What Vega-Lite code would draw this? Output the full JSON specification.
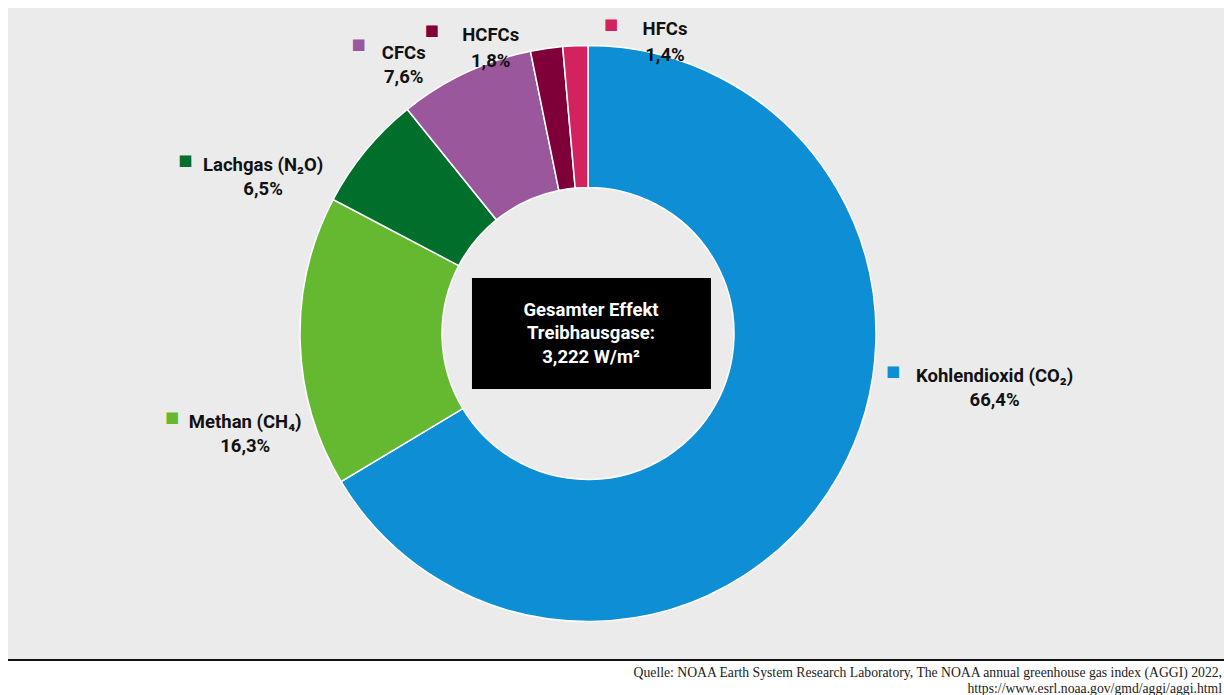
{
  "$schema": "https://vega.github.io/schema/vega-lite/v6.json",
  "padding": {"left": 8, "top": 8, "right": 0, "bottom": 0},
  "background": "white",
  "config": {"view": {"stroke": null}},
  "spacing": 0,
  "datasets": {
    "gases": [
      {"key": "CO2", "gas": "Kohlendioxid (CO₂)", "pct": "66,4%", "share": 66.4},
      {"key": "CH4", "gas": "Methan (CH₄)", "pct": "16,3%", "share": 16.3},
      {"key": "N2O", "gas": "Lachgas (N₂O)", "pct": "6,5%", "share": 6.5},
      {"key": "CFCs", "gas": "CFCs", "pct": "7,6%", "share": 7.6},
      {"key": "HCFCs", "gas": "HCFCs", "pct": "1,8%", "share": 1.8},
      {"key": "HFCs", "gas": "HFCs", "pct": "1,4%", "share": 1.4}
    ],
    "total": [{"label": "Gesamter Effekt|Treibhausgase:|3,222 W/m²"}]
  },
  "vconcat": [
    {
      "spacing": 0,
      "hconcat": [
        {
          "width": 1160,
          "height": 651,
          "view": {"fill": "#ebebeb", "stroke": null},
          "resolve": {"scale": {"theta": "independent"}},
          "layer": [
            {
              "data": {"name": "gases"},
              "transform": [
                {"stack": "share", "groupby": [], "as": ["s0", "s1"]}
              ],
              "mark": {"type": "arc", "outerRadius": 288, "innerRadius": 146, "stroke": "white", "strokeWidth": 1.5},
              "encoding": {
                "theta": {"field": "s0", "type": "quantitative", "scale": {"domain": [0, 100]}},
                "theta2": {"field": "s1"},
                "color": {"field": "gas", "type": "nominal", "sort": null, "legend": null,
                  "scale": {"domain": ["Kohlendioxid (CO₂)", "Methan (CH₄)", "Lachgas (N₂O)", "CFCs", "HCFCs", "HFCs"],
                            "range": ["#0e8ed4", "#65b931", "#006f2c", "#9b579c", "#7f0038", "#d3235e"]}}
              }
            },
            {
              "data": {"name": "total"},
              "mark": {"type": "point", "shape": "M-0.971,-0.465L1.029,-0.465L1.029,0.464L-0.971,0.464Z", "size": 57121, "filled": true, "color": "black", "opacity": 1, "strokeWidth": 0},
              "encoding": {}
            },
            {
              "data": {"name": "total"},
              "mark": {"type": "text", "font": "Roboto", "fontSize": 18.5, "fontWeight": "bold", "color": "white", "align": "center", "baseline": "top", "lineHeight": 23.5, "lineBreak": "|", "dx": 3, "dy": -33},
              "encoding": {"text": {"field": "label"}}
            },
            {
              "data": {"name": "gases"},
              "transform": [
                {"stack": "share", "groupby": [], "as": ["s0", "s1"]},
                {"calculate": "(datum.s0 + datum.s1) / 2", "as": "mid"},
                {"calculate": "[datum.gas, datum.pct]", "as": "label"},
                {"filter": "datum.key == 'CO2'"}
              ],
              "mark": {"type": "text", "font": "Roboto", "fontSize": 18.5, "fontWeight": "bold", "color": "#111111", "align": "center", "baseline": "top", "lineHeight": 23.5},
              "encoding": {
                "theta": {"field": "mid", "type": "quantitative", "stack": false, "scale": {"domain": [0, 100], "range": [-0.4318, 5.8514]}},
                "radius": {"value": 408},
                "text": {"field": "label"}
              }
            },
            {
              "data": {"name": "gases"},
              "transform": [
                {"stack": "share", "groupby": [], "as": ["s0", "s1"]},
                {"calculate": "(datum.s0 + datum.s1) / 2", "as": "mid"},
                {"filter": "datum.key == 'CO2'"}
              ],
              "mark": {"type": "text", "text": "■", "font": "DejaVu Sans", "fontSize": 15, "align": "center", "baseline": "middle", "dx": {"expr": "-length(datum.gas)*4.75-16"}, "dy": 3.5},
              "encoding": {
                "theta": {"field": "mid", "type": "quantitative", "stack": false, "scale": {"domain": [0, 100], "range": [-0.4318, 5.8514]}},
                "radius": {"value": 408},
                "color": {"field": "gas", "type": "nominal", "sort": null, "legend": null}
              }
            },
            {
              "data": {"name": "gases"},
              "transform": [
                {"stack": "share", "groupby": [], "as": ["s0", "s1"]},
                {"calculate": "(datum.s0 + datum.s1) / 2", "as": "mid"},
                {"calculate": "[datum.gas, datum.pct]", "as": "label"},
                {"filter": "datum.key == 'CH4'"}
              ],
              "mark": {"type": "text", "font": "Roboto", "fontSize": 18.5, "fontWeight": "bold", "color": "#111111", "align": "center", "baseline": "top", "lineHeight": 23.5},
              "encoding": {
                "theta": {"field": "mid", "type": "quantitative", "stack": false, "scale": {"domain": [0, 100], "range": [-0.2009, 6.0823]}},
                "radius": {"value": 352},
                "text": {"field": "label"}
              }
            },
            {
              "data": {"name": "gases"},
              "transform": [
                {"stack": "share", "groupby": [], "as": ["s0", "s1"]},
                {"calculate": "(datum.s0 + datum.s1) / 2", "as": "mid"},
                {"filter": "datum.key == 'CH4'"}
              ],
              "mark": {"type": "text", "text": "■", "font": "DejaVu Sans", "fontSize": 15, "align": "center", "baseline": "middle", "dx": {"expr": "-length(datum.gas)*4.75-16"}, "dy": 3.5},
              "encoding": {
                "theta": {"field": "mid", "type": "quantitative", "stack": false, "scale": {"domain": [0, 100], "range": [-0.2009, 6.0823]}},
                "radius": {"value": 352},
                "color": {"field": "gas", "type": "nominal", "sort": null, "legend": null}
              }
            },
            {
              "data": {"name": "gases"},
              "transform": [
                {"stack": "share", "groupby": [], "as": ["s0", "s1"]},
                {"calculate": "(datum.s0 + datum.s1) / 2", "as": "mid"},
                {"calculate": "[datum.gas, datum.pct]", "as": "label"},
                {"filter": "datum.key == 'N2O'"}
              ],
              "mark": {"type": "text", "font": "Roboto", "fontSize": 18.5, "fontWeight": "bold", "color": "#111111", "align": "center", "baseline": "top", "lineHeight": 23.5},
              "encoding": {
                "theta": {"field": "mid", "type": "quantitative", "stack": false, "scale": {"domain": [0, 100], "range": [-0.1892, 6.094]}},
                "radius": {"value": 370},
                "text": {"field": "label"}
              }
            },
            {
              "data": {"name": "gases"},
              "transform": [
                {"stack": "share", "groupby": [], "as": ["s0", "s1"]},
                {"calculate": "(datum.s0 + datum.s1) / 2", "as": "mid"},
                {"filter": "datum.key == 'N2O'"}
              ],
              "mark": {"type": "text", "text": "■", "font": "DejaVu Sans", "fontSize": 15, "align": "center", "baseline": "middle", "dx": {"expr": "-length(datum.gas)*4.75-16"}, "dy": 3.5},
              "encoding": {
                "theta": {"field": "mid", "type": "quantitative", "stack": false, "scale": {"domain": [0, 100], "range": [-0.1892, 6.094]}},
                "radius": {"value": 370},
                "color": {"field": "gas", "type": "nominal", "sort": null, "legend": null}
              }
            },
            {
              "data": {"name": "gases"},
              "transform": [
                {"stack": "share", "groupby": [], "as": ["s0", "s1"]},
                {"calculate": "(datum.s0 + datum.s1) / 2", "as": "mid"},
                {"calculate": "[datum.gas, datum.pct]", "as": "label"},
                {"filter": "datum.key == 'CFCs'"}
              ],
              "mark": {"type": "text", "font": "Roboto", "fontSize": 18.5, "fontWeight": "bold", "color": "#111111", "align": "center", "baseline": "top", "lineHeight": 23.5},
              "encoding": {
                "theta": {"field": "mid", "type": "quantitative", "stack": false, "scale": {"domain": [0, 100], "range": [-0.1274, 6.1558]}},
                "radius": {"value": 343},
                "text": {"field": "label"}
              }
            },
            {
              "data": {"name": "gases"},
              "transform": [
                {"stack": "share", "groupby": [], "as": ["s0", "s1"]},
                {"calculate": "(datum.s0 + datum.s1) / 2", "as": "mid"},
                {"filter": "datum.key == 'CFCs'"}
              ],
              "mark": {"type": "text", "text": "■", "font": "DejaVu Sans", "fontSize": 15, "align": "center", "baseline": "middle", "dx": {"expr": "-length(datum.gas)*4.75-26"}, "dy": 0},
              "encoding": {
                "theta": {"field": "mid", "type": "quantitative", "stack": false, "scale": {"domain": [0, 100], "range": [-0.1274, 6.1558]}},
                "radius": {"value": 343},
                "color": {"field": "gas", "type": "nominal", "sort": null, "legend": null}
              }
            },
            {
              "data": {"name": "gases"},
              "transform": [
                {"stack": "share", "groupby": [], "as": ["s0", "s1"]},
                {"calculate": "(datum.s0 + datum.s1) / 2", "as": "mid"},
                {"calculate": "[datum.gas, datum.pct]", "as": "label"},
                {"filter": "datum.key == 'HCFCs' || datum.key == 'HFCs'"}
              ],
              "mark": {"type": "text", "font": "Roboto", "fontSize": 18.5, "fontWeight": "bold", "color": "#111111", "align": "center", "baseline": "top", "lineHeight": 26},
              "encoding": {
                "theta": {"field": "mid", "type": "quantitative", "stack": false, "scale": {"domain": [0, 100], "range": [-27.402, 6.763]}},
                "radius": {"value": 323},
                "text": {"field": "label"}
              }
            },
            {
              "data": {"name": "gases"},
              "transform": [
                {"stack": "share", "groupby": [], "as": ["s0", "s1"]},
                {"calculate": "(datum.s0 + datum.s1) / 2", "as": "mid"},
                {"filter": "datum.key == 'HCFCs' || datum.key == 'HFCs'"}
              ],
              "mark": {"type": "text", "text": "■", "font": "DejaVu Sans", "fontSize": 15, "align": "center", "baseline": "middle", "dx": {"expr": "-length(datum.gas)*4.75-35"}, "dy": 4},
              "encoding": {
                "theta": {"field": "mid", "type": "quantitative", "stack": false, "scale": {"domain": [0, 100], "range": [-27.402, 6.763]}},
                "radius": {"value": 323},
                "color": {"field": "gas", "type": "nominal", "sort": null, "legend": null}
              }
            }
          ]
        },
        {
          "width": 56,
          "height": 651,
          "view": {"fill": "#ebebeb", "stroke": null},
          "data": {"name": "total"},
          "mark": {"type": "text", "opacity": 0, "fontSize": 1, "baseline": "top"},
          "encoding": {"text": {"value": ""}}
        }
      ]
    },
    {
      "width": 1216,
      "height": 2,
      "view": {"fill": "#111111", "stroke": null},
      "data": {"name": "total"},
      "mark": {"type": "text", "opacity": 0, "fontSize": 1, "baseline": "top"},
      "encoding": {"text": {"value": ""}},
      "title": {
        "text": ["Quelle: NOAA Earth System Research Laboratory, The NOAA annual greenhouse gas index (AGGI) 2022,", "https://www.esrl.noaa.gov/gmd/aggi/aggi.html"],
        "orient": "bottom",
        "anchor": "end",
        "font": "Liberation Serif",
        "fontSize": 13.7,
        "fontWeight": "normal",
        "color": "#222222",
        "lineHeight": 16,
        "offset": 5,
        "dx": -2
      }
    }
  ]
}
